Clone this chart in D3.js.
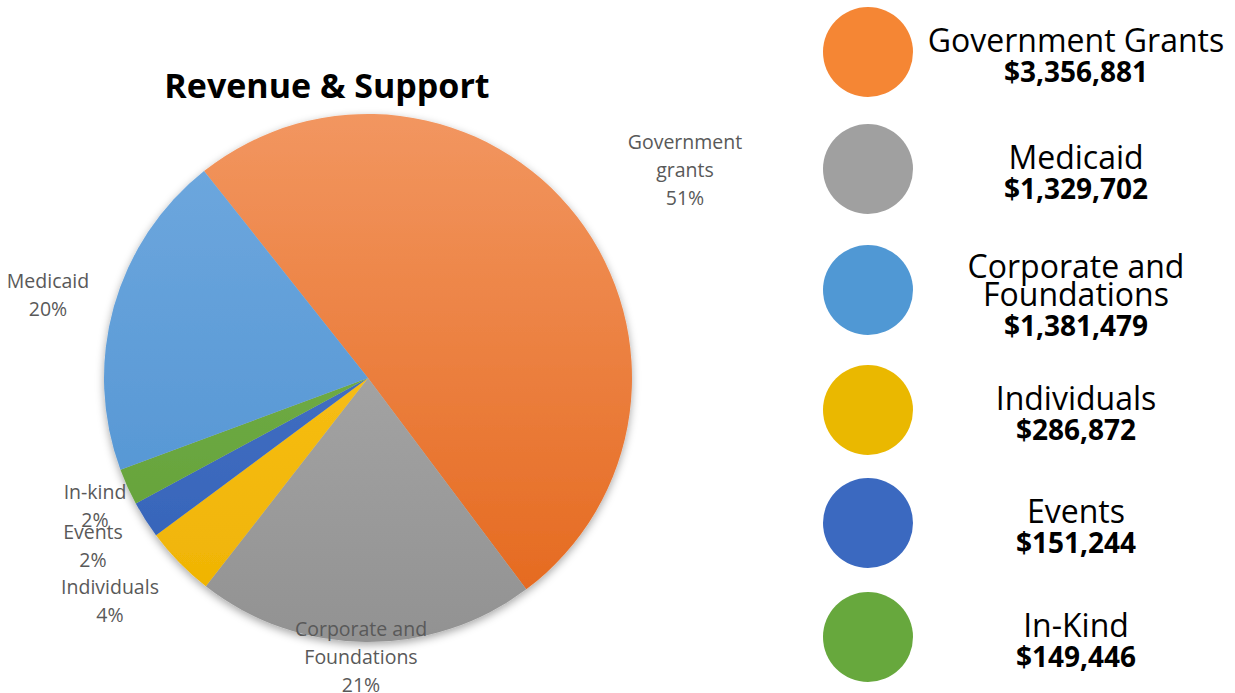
<!DOCTYPE html>
<html>
<head>
<meta charset="utf-8">
<script src="https://cdn.jsdelivr.net/npm/d3@7"></script>
<style>
	body { margin: 0; background: #fff; }
	svg { display: block; }
</style>
</head>
<body>
<svg id="chart" width="1235" height="693"></svg>
<script>

// pie slices, in drawing order (clockwise)
var sliceNames = ['Government grants', 'Corporate and Foundations', 'Individuals', 'Events', 'In-kind', 'Medicaid']
var sliceValues = [3356881, 1381479, 286872, 151244, 149446, 1329702]
var slicePct = ['51%', '21%', '4%', '2%', '2%', '20%']
var sliceTop = ['#f29660', '#b3b3b3', '#ffc829', '#4f7dcc', '#7db755', '#70a9df']
var sliceBottom = ['#e4661a', '#929292', '#eeb200', '#325fb6', '#5f9d33', '#4c90d0']

// legend on the right
var legendNames = [['Government Grants'], ['Medicaid'], ['Corporate and', 'Foundations'], ['Individuals'], ['Events'], ['In-Kind']]
var legendValues = [3356881, 1329702, 1381479, 286872, 151244, 149446]
var legendColors = ['#f58634', '#a0a0a0', '#5098d4', '#eab800', '#3b69c0', '#67a83d']

var svg = d3.select('#chart')

var cx = 368, cy = 378, r = 264

var defs = svg.append('defs')

var shadow = defs.append('filter')
	.attr('id', 'shadow')
	.attr('x', '-20%').attr('y', '-20%')
	.attr('width', '140%').attr('height', '140%')
shadow.append('feDropShadow')
	.attr('dx', 0)
	.attr('dy', 3)
	.attr('stdDeviation', 4)
	.attr('flood-color', '#000')
	.attr('flood-opacity', 0.35)

// gradients run top to bottom of the whole pie (pie group coords)
sliceTop.forEach(function(c, i) {
	var g = defs.append('linearGradient')
		.attr('id', 'grad' + i)
		.attr('gradientUnits', 'userSpaceOnUse')
		.attr('x1', 0).attr('y1', -r)
		.attr('x2', 0).attr('y2', r)
	g.append('stop').attr('offset', '0%').attr('stop-color', c)
	g.append('stop').attr('offset', '100%').attr('stop-color', sliceBottom[i])
})

// title
svg.append('text')
	.attr('x', 327)
	.attr('y', 98)
	.attr('text-anchor', 'middle')
	.style('font-family', 'Open Sans, sans-serif')
	.style('font-weight', 'bold')
	.style('font-size', '34px')
	.style('fill', '#000')
	.text('Revenue & Support')

var pie = d3.pie()
	.sort(null)
	.startAngle(-38.4 * Math.PI / 180)
	.endAngle((360 - 38.4) * Math.PI / 180)

var arcs = pie(sliceValues)

var arc = d3.arc()
	.innerRadius(0)
	.outerRadius(r)

var pieG = svg.append('g')
	.attr('filter', 'url(#shadow)')
	.append('g')
	.attr('transform', 'translate(' + cx + ',' + cy + ')')

pieG.selectAll('path')
	.data(arcs)
	.enter().append('path')
	.attr('d', arc)
	.attr('fill', function(d, i) { return 'url(#grad' + i + ')' })

// data labels (positions)
var labelLines = [
	['Government', 'grants', slicePct[0]],
	['Corporate and', 'Foundations', slicePct[1]],
	['Individuals', slicePct[2]],
	['Events', slicePct[3]],
	['In-kind', slicePct[4]],
	['Medicaid', slicePct[5]]
]
var labelPos = [[685, 149], [361, 636], [110, 594], [93, 539], [95, 499], [48, 288]]

var labels = svg.selectAll('.plabel')
	.data(labelLines)
	.enter().append('text')
	.attr('class', 'plabel')
	.attr('text-anchor', 'middle')
	.style('font-family', 'Open Sans, sans-serif')
	.style('font-size', '19.5px')
	.style('fill', '#595959')

labels.each(function(d, i) {
	var t = d3.select(this)
	d.forEach(function(line, j) {
		t.append('tspan')
			.attr('x', labelPos[i][0])
			.attr('y', labelPos[i][1] + j * 28)
			.text(line)
	})
})

// legend
var legendY = [52, 169, 290, 410, 523, 637]
var fmt = d3.format('$,')

var leg = svg.selectAll('.leg')
	.data(legendNames)
	.enter().append('g')
	.attr('class', 'leg')
	.attr('transform', function(d, i) { return 'translate(0,' + legendY[i] + ')' })

leg.append('circle')
	.attr('cx', 868)
	.attr('cy', 0)
	.attr('r', 45)
	.attr('fill', function(d, i) { return legendColors[i] })

leg.each(function(d, i) {
	var g = d3.select(this)
	var first = d.length > 1 ? -12 : 0
	d.forEach(function(line, j) {
		g.append('text')
			.attr('x', 1076)
			.attr('y', first + j * 28)
			.attr('text-anchor', 'middle')
			.style('font-family', 'Open Sans, sans-serif')
			.style('font-size', '32px')
			.style('fill', '#000')
			.text(line)
	})
	g.append('text')
		.attr('x', 1076)
		.attr('y', first + (d.length - 1) * 28 + 30)
		.attr('text-anchor', 'middle')
		.style('font-family', 'Open Sans, sans-serif')
		.style('font-weight', 'bold')
		.style('font-size', '28px')
		.style('fill', '#000')
		.text(fmt(legendValues[i]))
})

</script>
</body>
</html>
